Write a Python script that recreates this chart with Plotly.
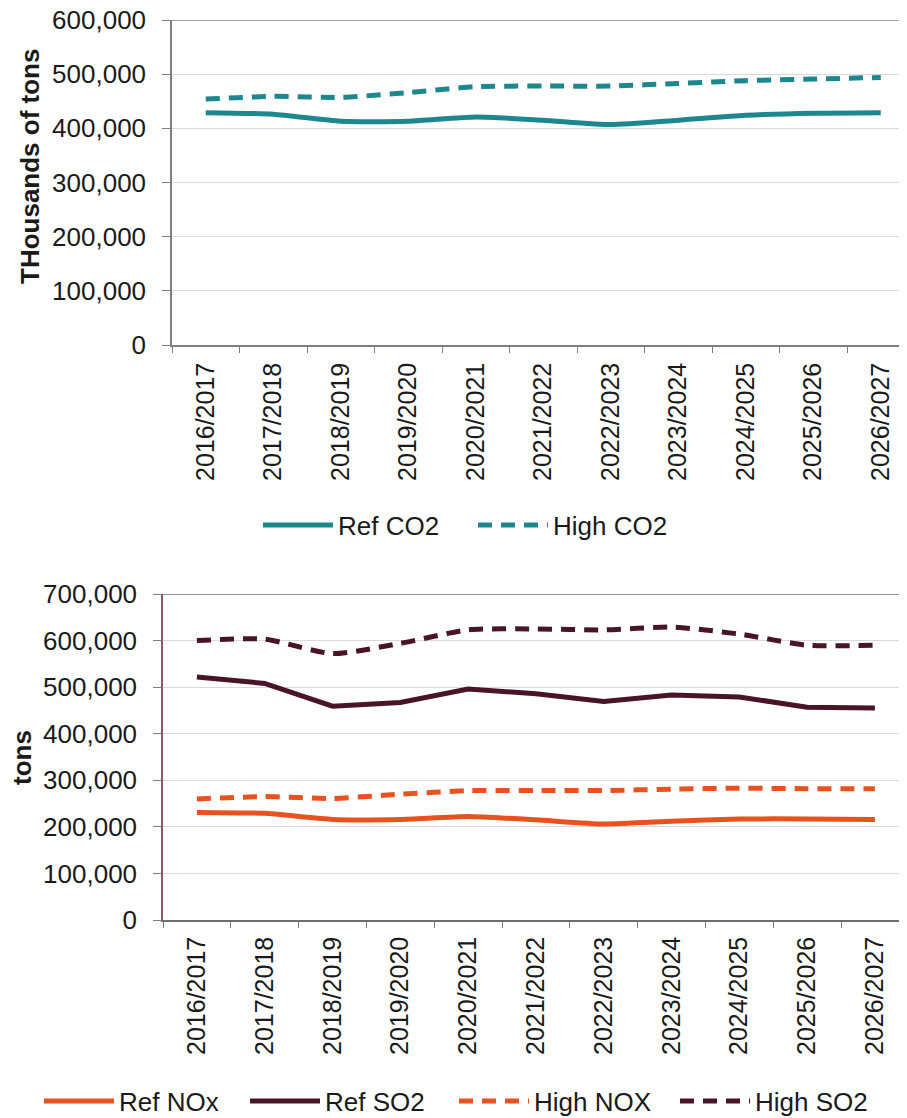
import plotly.graph_objects as go

years = ["2016/2017", "2017/2018", "2018/2019", "2019/2020", "2020/2021", "2021/2022",
         "2022/2023", "2023/2024", "2024/2025", "2025/2026", "2026/2027"]

ref_co2 = [429000, 426000, 413000, 413000, 421000, 415000, 407000, 415000, 424000, 428000, 429000]
high_co2 = [454000, 459000, 457000, 466000, 477000, 478000, 478000, 483000, 488000, 491000, 494000]

ref_nox = [231000, 229000, 216000, 216000, 222000, 215000, 206000, 212000, 217000, 217000, 216000]
ref_so2 = [522000, 508000, 459000, 467000, 496000, 486000, 469000, 483000, 479000, 457000, 455000]
high_nox = [260000, 265000, 261000, 270000, 278000, 278000, 278000, 281000, 283000, 282000, 282000]
high_so2 = [600000, 603000, 572000, 594000, 623000, 625000, 623000, 629000, 614000, 590000, 590000]

# page has an 8px body margin: figure origin sits at (8, 8) in the window
OFF = 8
W, H = 907 - OFF, 1118 - OFF
TEAL = "#1d8790"
ORANGE = "#e8521f"
MAROON = "#4a1428"
FONT = "Liberation Sans, Arial, sans-serif"
FS = 26
FSX = 25

def py(y):
    return (H - (y - OFF)) / H

def px(x):
    return (x - OFF) / W

fig = go.Figure()

fig.add_trace(go.Scatter(x=years, y=ref_co2, mode="lines", name="Ref CO2",
                         line=dict(color=TEAL, width=5, shape="spline", smoothing=0.6),
                         xaxis="x", yaxis="y", legend="legend"))
fig.add_trace(go.Scatter(x=years, y=high_co2, mode="lines", name="High CO2",
                         line=dict(color=TEAL, width=5, dash="14px,9px", shape="spline", smoothing=0.6),
                         xaxis="x", yaxis="y", legend="legend"))

fig.add_trace(go.Scatter(x=years, y=ref_nox, mode="lines", name="Ref NOx",
                         line=dict(color=ORANGE, width=5, shape="spline", smoothing=0.5),
                         xaxis="x2", yaxis="y2", legend="legend2"))
fig.add_trace(go.Scatter(x=years, y=ref_so2, mode="lines", name="Ref SO2",
                         line=dict(color=MAROON, width=5),
                         xaxis="x2", yaxis="y2", legend="legend3"))
fig.add_trace(go.Scatter(x=years, y=high_nox, mode="lines", name="High NOX",
                         line=dict(color=ORANGE, width=5, dash="14px,9px", shape="spline", smoothing=0.5),
                         xaxis="x2", yaxis="y2", legend="legend4"))
fig.add_trace(go.Scatter(x=years, y=high_so2, mode="lines", name="High SO2",
                         line=dict(color=MAROON, width=5, dash="14px,9px", shape="spline", smoothing=0.6),
                         xaxis="x2", yaxis="y2", legend="legend5"))

# plot-area geometry (window pixels)
t_left, t_step = 172, 67.5
b_left, b_step = 163, 67.8
RIGHT = 907

xcommon = dict(type="category", tickangle=-90, ticks="outside", tickson="boundaries",
               ticklen=6, tickcolor="#7f7f7f", showline=True, linewidth=1.5,
               showgrid=False, tickfont=dict(family=FONT, size=FSX, color="#1a1a1a"),
               fixedrange=True, automargin=False, ticklabeloverflow="allow")
ycommon = dict(ticks="outside", ticklen=8, tickcolor="#7f7f7f", showline=True, linewidth=1.5,
               showgrid=True, gridcolor="#d9d9d9", gridwidth=1, zeroline=False,
               tickformat=",d", tickfont=dict(family=FONT, size=FS, color="#1a1a1a"),
               ticklabelstandoff=11, fixedrange=True, automargin=False,
               ticklabeloverflow="allow")

def leg(x, y, **kw):
    # x: window pixel where the legend symbol starts
    d = dict(orientation="h", x=px(x - 5), xanchor="left", y=py(y), yanchor="middle",
             itemwidth=70, font=dict(family=FONT, size=FS, color="#1a1a1a"),
             bgcolor="rgba(0,0,0,0)")
    d.update(kw)
    return d

fig.update_layout(
    width=W, height=H, margin=dict(l=0, r=0, t=0, b=0, autoexpand=False),
    paper_bgcolor="white", plot_bgcolor="white",
    font=dict(family=FONT, size=FS, color="#1a1a1a"),
    xaxis=dict(xcommon, domain=[px(t_left), 1], anchor="y", linecolor="#7f7f7f",
               ticklabelstandoff=6,
               range=[-0.5, (RIGHT - t_left) / t_step - 0.5]),
    yaxis=dict(ycommon, domain=[py(345), py(20)], anchor="x", range=[0, 600000],
               dtick=100000, linecolor="#7f7f7f"),
    xaxis2=dict(xcommon, domain=[px(b_left), 1], anchor="y2", linecolor="#6f6f6f",
                ticklabelstandoff=5,
                range=[-0.5, (RIGHT - b_left) / b_step - 0.5]),
    yaxis2=dict(ycommon, domain=[py(920), py(594)], anchor="x2", range=[0, 700000],
                dtick=100000, linecolor="#8c5866"),
    legend=leg(263, 525, entrywidth=130),
    legend2=leg(44, 1101),
    legend3=leg(250, 1101),
    legend4=leg(459, 1101),
    legend5=leg(680, 1101),
    showlegend=True,
)

# darker top border lines of plot areas
fig.add_shape(type="line", xref="paper", yref="y", x0=px(t_left), x1=1, y0=600000, y1=600000,
              line=dict(color="#8a8a8a", width=1.5))
fig.add_shape(type="line", xref="paper", yref="y2", x0=px(b_left), x1=1, y0=700000, y1=700000,
              line=dict(color="#6f6f6f", width=1.5))

fig.add_annotation(text="<b>THousands of tons</b>", xref="paper", yref="paper",
                   x=px(30), y=py(167), xanchor="center", yanchor="middle",
                   textangle=-90, showarrow=False,
                   font=dict(family=FONT, size=FS, color="#1a1a1a"))
fig.add_annotation(text="<b>tons</b>", xref="paper", yref="paper",
                   x=px(22), y=py(758), xanchor="center", yanchor="middle",
                   textangle=-90, showarrow=False,
                   font=dict(family=FONT, size=FS, color="#1a1a1a"))

fig.write_html("out.html")
